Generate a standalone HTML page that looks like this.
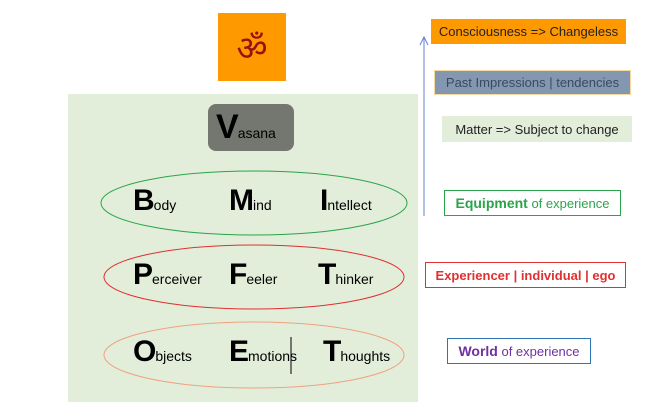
<!DOCTYPE html>
<html><head><style>
body{margin:0;width:666px;height:402px;background:#fff;position:relative;overflow:hidden;font-family:"Liberation Sans",sans-serif}
.a{position:absolute}
.bx{position:absolute;box-sizing:border-box;font-size:13px;display:flex;align-items:center;justify-content:center;white-space:nowrap}
.w{position:absolute;white-space:nowrap;color:#000}
.w b{font-size:30px;font-weight:bold;letter-spacing:-1px}
.w span{font-size:14px}
</style></head><body>
<div class="a" style="left:68px;top:94px;width:350px;height:308px;background:#e2eed9"></div>
<div class="bx" style="left:218px;top:13px;width:68px;height:68px;background:#ff9900;color:#9a1010;font-size:34px;font-family:'DejaVu Sans',sans-serif">ॐ</div>
<div class="a" style="left:208px;top:104px;width:86px;height:47px;background:#737770;border-radius:8px"></div>
<div class="w" style="left:216px;top:108px"><b style="font-size:34px">V</b><span>asana</span></div>
<svg class="a" style="left:0;top:0" width="666" height="402">
<ellipse cx="254" cy="203" rx="153" ry="32" fill="none" stroke="#2aa44a" stroke-width="1"/>
<ellipse cx="254" cy="277" rx="150" ry="32" fill="none" stroke="#e03030" stroke-width="1"/>
<ellipse cx="254" cy="355" rx="150" ry="33" fill="none" stroke="#f0a080" stroke-width="1"/>
<line x1="424" y1="216" x2="424" y2="38" stroke="#6a7fd0" stroke-width="1"/>
<polyline points="420,45 424,37 428,45" fill="none" stroke="#6a7fd0" stroke-width="1"/>
<line x1="291" y1="337" x2="291" y2="374" stroke="#000" stroke-width="1"/>
</svg>
<div class="w" style="left:133px;top:184px"><b>B</b><span>ody</span></div>
<div class="w" style="left:229px;top:184px"><b>M</b><span>ind</span></div>
<div class="w" style="left:320px;top:184px"><b>I</b><span>ntellect</span></div>
<div class="w" style="left:133px;top:258px"><b>P</b><span>erceiver</span></div>
<div class="w" style="left:229px;top:258px"><b>F</b><span>eeler</span></div>
<div class="w" style="left:318px;top:258px"><b>T</b><span>hinker</span></div>
<div class="w" style="left:133px;top:335px"><b>O</b><span>bjects</span></div>
<div class="w" style="left:229px;top:335px"><b>E</b><span>motions</span></div>
<div class="w" style="left:323px;top:335px"><b>T</b><span>houghts</span></div>
<div class="bx" style="left:431px;top:19px;width:195px;height:25px;background:#ff9900;color:#222">Consciousness =&gt; Changeless</div>
<div class="bx" style="left:434px;top:70px;width:197px;height:25px;background:#8497b0;color:#3a4a60;border:1px solid #f5d9a0">Past Impressions | tendencies</div>
<div class="bx" style="left:442px;top:116px;width:190px;height:26px;background:#e2eed9;color:#222">Matter =&gt; Subject to change</div>
<div class="bx" style="left:444px;top:190px;width:177px;height:26px;border:1px solid #2aa44a;color:#2aa44a"><b style="font-size:14px">Equipment</b>&nbsp;of experience</div>
<div class="bx" style="left:425px;top:262px;width:201px;height:26px;border:1px solid #e03030;color:#e03030;font-weight:bold">Experiencer | individual | ego</div>
<div class="bx" style="left:447px;top:338px;width:144px;height:26px;border:1px solid #2e75b6;color:#7030a0"><b style="font-size:14px">World</b>&nbsp;of experience</div>
</body></html>
